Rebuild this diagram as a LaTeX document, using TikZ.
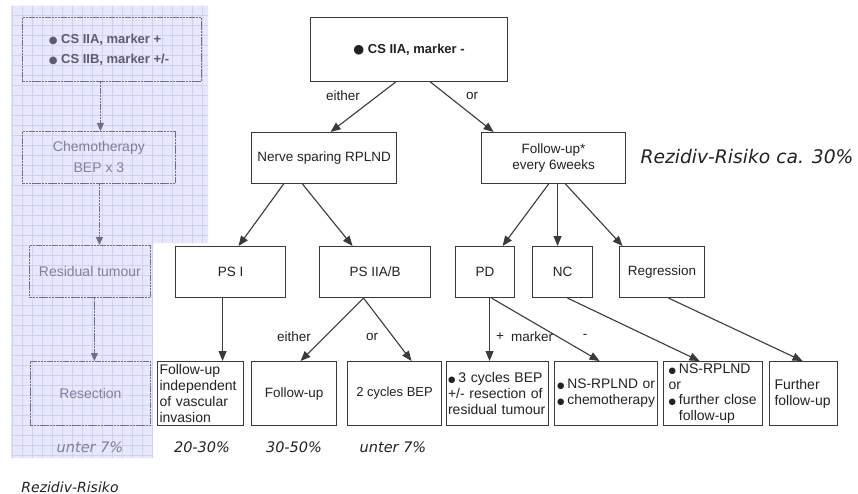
\documentclass[tikz,border=0pt]{standalone}
\usepackage{fontspec}
\setmainfont{Liberation Sans}
\newfontfamily\riskfont{DejaVu Sans}[ItalicFont={DejaVu Sans Oblique}]
\newfontfamily\symfont{DejaVu Sans}
\usetikzlibrary{arrows.meta}

\definecolor{panelfill}{HTML}{E8E8FC}
\definecolor{panelgrid}{HTML}{D0D0F4}
\definecolor{paneldraw}{HTML}{6E6E86}
\definecolor{paneltext}{HTML}{80809A}
\definecolor{panelbold}{HTML}{5C5C70}
\definecolor{boxline}{HTML}{3A3A3A}
\definecolor{ink}{HTML}{222222}

\newcommand{\fsz}[2]{\fontsize{#1}{#2}\selectfont}
\newcommand{\bul}{{\symfont\fsz{8.5}{8.5}●}\hspace{3pt}}
\newcommand{\oneline}[1]{\mbox{#1}}

\tikzset{
  box/.style={draw=boxline, line width=1.1pt, inner sep=0pt, align=center,
    text=ink, font=\fsz{13.5}{16}},
  lbox/.style={box, align=left, anchor=north west, minimum height=64pt},
  arr/.style={draw=boxline, line width=1.1pt, -{Triangle[length=10pt,width=8pt]}},
  lbl/.style={text=ink, font=\fsz{13.5}{16}, inner sep=0pt},
  risk/.style={text=ink, font=\riskfont\itshape\fsz{14.5}{17}, inner sep=0pt},
  pbox/.style={draw=paneldraw, line width=0.8pt, dash pattern=on 2.5pt off 0.7pt,
    inner sep=0pt, anchor=north west, text=paneltext, font=\fsz{14}{20}, align=center},
  parr/.style={draw=paneldraw, line width=0.8pt, dash pattern=on 2.5pt off 0.7pt,
    -{Triangle[length=8pt,width=7pt,fill=paneldraw]}}
}

\begin{document}
\begin{tikzpicture}[x=1pt, y=-1pt]
\useasboundingbox (0,0) rectangle (858,494);
\fill[white] (0,0) rectangle (858,494);

% ---- left panel: the marker-positive pathway on squared paper ----
\begin{scope}
  \path[clip] (11,6) -- (208,6) -- (208,243) -- (153,243) -- (153,458) -- (11,458) -- cycle;
  \fill[panelfill] (0,0) rectangle (210,460);
  \draw[panelgrid, line width=0.6pt, step=10pt, shift={(2,5)}] (0,0) grid (210,460);
\end{scope}

\node[pbox, minimum width=179pt, minimum height=64pt] (p1) at (22,17) {};
\node[text=panelbold, font=\bfseries\fsz{13}{20}, align=left, inner sep=0pt] (p1t) at (109,50)
  {{\symfont\fsz{10}{10}●}\ CS IIA, marker +\\ {\symfont\fsz{10}{10}●}\ CS IIB, marker +/-};
\node[pbox, minimum width=153pt, minimum height=52pt] (p2) at (22,131)
  {\raisebox{-5pt}{\parbox{150pt}{\centering Chemotherapy\\[1pt] BEP x 3}}};
\node[pbox, minimum width=121pt, minimum height=52pt] (p3) at (29,245) {Residual tumour};
\node[pbox, minimum width=120pt, minimum height=64pt] (p4) at (30,361) {Resection};

\draw[parr] ([xshift=-11.5pt]p1.south) -- ([xshift=1.5pt]p2.north);
\draw[parr] ([xshift=0.5pt]p2.south) -- ([xshift=9.5pt]p3.north);
\draw[parr] ([xshift=4.5pt]p3.south) -- ([xshift=4pt]p4.north);

\node[risk, text=paneltext] (rpanel) at (90,447) {unter 7\%};
\node[risk, font=\riskfont\itshape\fsz{14}{17}] (rlabel) at (70,487) {Rezidiv-Risiko};

% ---- marker-negative pathway ----
\node[box, anchor=north west, minimum width=197pt, minimum height=64pt,
      font=\bfseries\fsz{13}{16}] (top) at (310,17)
  {{\symfont\fsz{12.5}{12.5}●}\ CS IIA, marker -};

\node[box, anchor=north west, minimum width=145pt, minimum height=51pt] (nerve) at (251,132)
  {Nerve sparing RPLND};
\node[box, anchor=north west, minimum width=144pt, minimum height=51pt] (follow) at (481,132)
  {Follow-up*\\every 6weeks};

\draw[arr] ([xshift=-13.5pt]top.south) -- ([xshift=6.5pt]nerve.north);
\draw[arr] ([xshift=21.5pt]top.south) -- ([xshift=-60pt]follow.north);
\node[lbl] (either1) at (343,96) {either};
\node[lbl] (or1) at (472,96) {or};

\node[risk, font=\riskfont\itshape\fsz{18.7}{22}] (rtotal) at (747,157) {Rezidiv-Risiko ca. 30\%};

% second row
\node[box, anchor=north west, minimum width=110pt, minimum height=51pt] (ps1) at (175,246) {PS I};
\node[box, anchor=north west, minimum width=111pt, minimum height=51pt] (ps2) at (319,246) {PS IIA/B};
\node[box, anchor=north west, minimum width=59pt, minimum height=51pt] (pd) at (455,246) {PD};
\node[box, anchor=north west, minimum width=60pt, minimum height=51pt] (nc) at (532,246) {NC};
\node[box, anchor=north west, minimum width=85pt, minimum height=51pt] (reg) at (619,246) {Regression};

\draw[arr] ([xshift=-40.5pt]nerve.south) -- ([xshift=8pt]ps1.north);
\draw[arr] ([xshift=-21.5pt]nerve.south) -- ([xshift=-22.5pt]ps2.north);
\draw[arr] ([xshift=-5pt]follow.south) -- ([xshift=17.5pt]pd.north);
\draw[arr] ([xshift=4pt]follow.south) -- ([xshift=-5pt]nc.north);
\draw[arr] ([xshift=12pt]follow.south) -- ([xshift=-39.5pt]reg.north);

% third row
\node[lbox, inner xsep=2pt, text width=82pt, font=\fsz{14}{15.8}] (fa) at (157,361)
  {\oneline{Follow-up}\\\oneline{independent}\\\oneline{of vascular}\\\oneline{invasion}};
\node[box, anchor=north west, minimum width=85pt, minimum height=64pt] (fb) at (251,361) {Follow-up};
\node[box, anchor=north west, minimum width=94pt, minimum height=64pt, font=\fsz{13}{16}] (fc) at (347,361)
  {2 cycles BEP};
\node[lbox, inner xsep=1.5pt, text width=99pt, font=\fsz{14}{16}] (fd) at (446,361)
  {\oneline{\bul 3 cycles BEP}\\\oneline{+/- resection of}\\\oneline{residual tumour}};
\node[lbox, inner xsep=2.5pt, text width=98pt, font=\fsz{13.8}{16}] (fe) at (554,361)
  {\oneline{\bul NS-RPLND or}\\\oneline{\bul chemotherapy}};
\node[lbox, inner xsep=5pt, text width=89pt, font=\fsz{14}{15.7}] (ff) at (663,361)
  {\oneline{\bul NS-RPLND}\\\oneline{or}\\\oneline{\bul further close}\\\oneline{\phantom{\bul}follow-up}};
\node[lbox, inner xsep=5pt, text width=58pt, font=\fsz{14}{16}] (fg) at (769,361)
  {\oneline{Further}\\\oneline{follow-up}};

\draw[arr] ([xshift=-8pt]ps1.south) -- ([xshift=22pt]fa.north);
\draw[arr] ([xshift=-11.5pt]ps2.south) -- ([xshift=6.5pt]fb.north);
\draw[arr] ([xshift=-11.5pt]ps2.south) -- ([xshift=17pt]fc.north);
\node[lbl] (either2) at (294,337) {either};
\node[lbl] (or2) at (372,337) {or};

\draw[arr] ([xshift=4.5pt]pd.south) -- ([xshift=-8pt]fd.north);
\draw[arr] ([xshift=6.5pt]pd.south) -- ([xshift=-6.5pt]fe.north);
\node[lbl] (plus) at (500,337) {+};
\node[lbl] (marker) at (532,337) {marker};
\node[lbl] (minus) at (585,336) {-};
\draw[arr] ([xshift=5pt]nc.south) -- ([xshift=-13.5pt]ff.north);
\draw[arr] ([xshift=6.5pt]reg.south) -- ([xshift=-1pt]fg.north);

% relapse risk per branch
\node[risk] (r1) at (202,447) {20-30\%};
\node[risk] (r2) at (294,447) {30-50\%};
\node[risk] (r3) at (393,447) {unter 7\%};
\end{tikzpicture}
\end{document}
